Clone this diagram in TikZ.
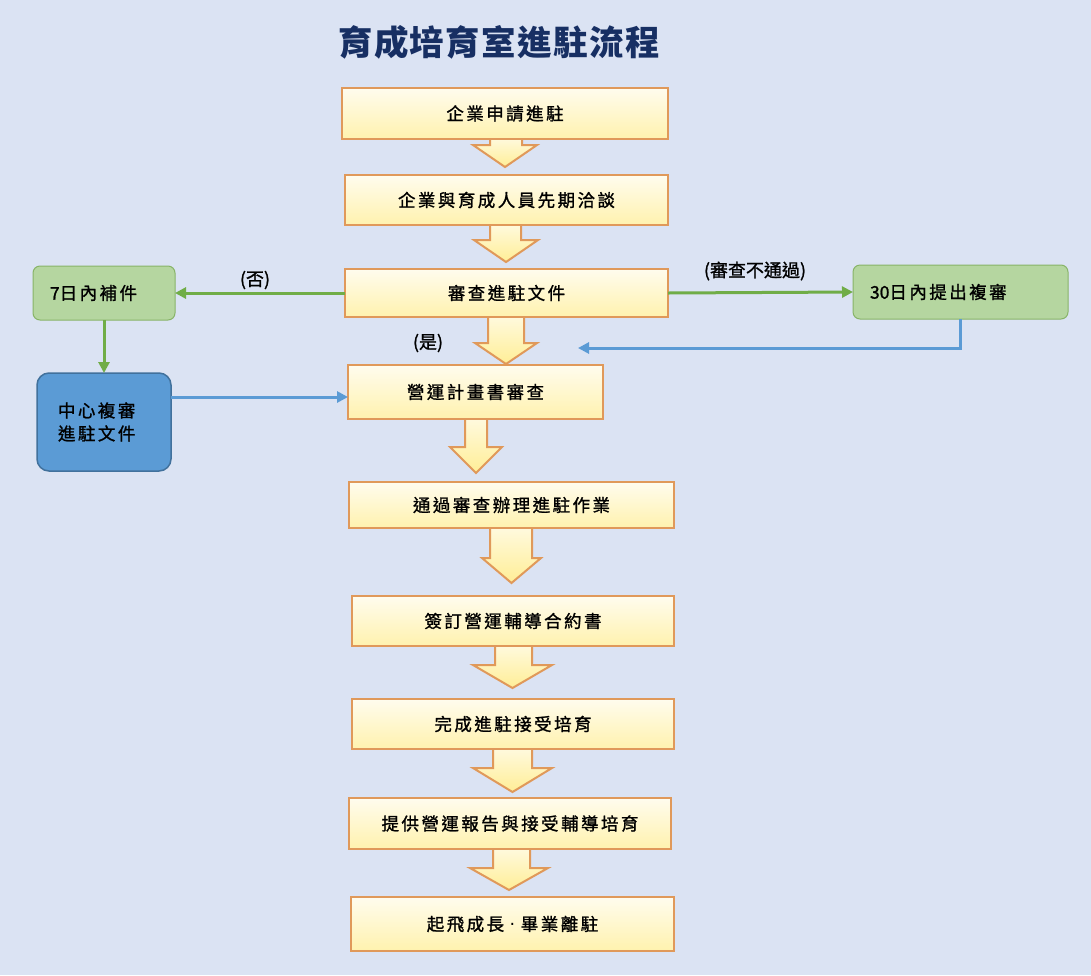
\documentclass[tikz,border=0pt]{standalone}
\usepackage{fontspec}
\setmainfont{Noto Sans CJK TC}[LetterSpace=14, FakeBold=1.2]
\newfontfamily\plainfont{Noto Sans CJK TC}[FakeBold=1.2]
\newfontfamily\dotfont{DejaVu Sans}
\newfontfamily\titlefont{Noto Sans CJK TC}[LetterSpace=4]
\usetikzlibrary{arrows.meta}
\definecolor{bg}{HTML}{DBE3F3}
\definecolor{boxborder}{HTML}{E0995A}
\definecolor{boxtop}{HTML}{FFFCEE}
\definecolor{boxbot}{HTML}{FFF2AE}
\definecolor{arrtop}{HTML}{FFFAE0}
\definecolor{arrbot}{HTML}{FFEE96}
\definecolor{gfill}{HTML}{B5D6A0}
\definecolor{gborder}{HTML}{88B468}
\definecolor{gline}{HTML}{70AD47}
\definecolor{bfill}{HTML}{5B9BD5}
\definecolor{bborder}{HTML}{41719C}
\definecolor{bline}{HTML}{5B9BD5}
\definecolor{titlec}{HTML}{172F63}
\tikzset{
  stepbox/.style={draw=boxborder, line width=2pt, top color=boxtop, bottom color=boxbot,
    inner sep=0pt, outer sep=0pt, font=\fontsize{17.5}{21}\selectfont},
  sidebox/.style={draw=gborder, line width=1pt, fill=gfill, rounded corners=7pt,
    inner sep=0pt, outer sep=0pt, align=left, font=\fontsize{17.5}{21}\selectfont},
  bluebox/.style={draw=bborder, line width=1.5pt, fill=bfill, rounded corners=12pt,
    inner sep=0pt, outer sep=0pt, align=left, font=\fontsize{17.5}{23}\selectfont},
  lbl/.style={font=\plainfont\fontsize{18}{21}\selectfont, inner sep=0pt},
  garrow/.style={draw=gline, line width=3pt, -{Triangle[length=11pt,width=11pt]}},
  barrow/.style={draw=bline, line width=3pt, -{Triangle[length=11pt,width=11pt]}},
  blockarr/.style={draw=boxborder, line width=2pt, top color=arrtop, bottom color=arrbot, line join=miter}
}
% block arrow: shaft left, shaft right, head left, head right, top y, head y, tip y
\newcommand\blockarrow[7]{%
  \path[blockarr] (#1,#5) -- (#1,#6) -- (#3,#6) -- ({(#3+#4)/2},#7) -- (#4,#6) -- (#2,#6) -- (#2,#5);
}
\begin{document}
\begin{tikzpicture}[x=1pt,y=-1pt]
\fill[bg] (0,0) rectangle (1091,975);
\useasboundingbox (0,0) rectangle (1091,975);

\node[font=\titlefont\bfseries\fontsize{34.5}{40}\selectfont, text=titlec, inner sep=0pt] (title) at (499,42) {育成培育室進駐流程};

% block arrows (drawn first, boxes on top)
\blockarrow{490}{522}{473}{537}{137}{145}{167}
\blockarrow{490}{521}{474}{538}{223}{240}{262}
\blockarrow{488}{524}{475}{537}{315}{343}{364}
\blockarrow{465}{487}{450}{502}{417}{447}{473}
\blockarrow{490}{532}{482}{541}{526}{558}{583}
\blockarrow{495}{532}{473}{552}{644}{665}{688}
\blockarrow{493}{532}{473}{552}{747}{768}{792}
\blockarrow{493}{530}{470}{548}{847}{868}{890}

% main steps
\node[stepbox, minimum width=326pt, minimum height=51pt] (s1) at (505,113.5) {企業申請進駐};
\node[stepbox, minimum width=323pt, minimum height=50pt] (s2) at (506.5,200) {企業與育成人員先期洽談};
\node[stepbox, minimum width=323pt, minimum height=48pt] (s3) at (506.5,293) {審查進駐文件};
\node[stepbox, minimum width=255pt, minimum height=54pt] (s4) at (475.5,392) {營運計畫書審查};
\node[stepbox, minimum width=325pt, minimum height=46pt] (s5) at (511.5,505) {通過審查辦理進駐作業};
\node[stepbox, minimum width=322pt, minimum height=50pt] (s6) at (513,621) {簽訂營運輔導合約書};
\node[stepbox, minimum width=322pt, minimum height=50pt] (s7) at (513,724) {完成進駐接受培育};
\node[stepbox, minimum width=322pt, minimum height=51pt] (s8) at (510,823.5) {提供營運報告與接受輔導培育};
\node[stepbox, minimum width=323pt, minimum height=54pt] (s9) at (512.5,924) {起飛成長{\dotfont\ ·\ }畢業離駐};

% side boxes
\node[sidebox, minimum width=142pt, minimum height=54pt, text width=108pt] (n7) at (104,293) {{\plainfont 7}日內補件};
\node[sidebox, minimum width=215pt, minimum height=54pt, text width=181pt] (n30) at (960.5,292) {{\plainfont 30}日內提出複審};
\node[bluebox, minimum width=134pt, minimum height=98pt, text width=92pt] (center) at (104,422) {中心複審\\進駐文件};

% connectors
\draw[garrow] (s3.west) -- (n7.east);
\draw[garrow] (s3.east) -- (n30.west);
\draw[garrow] (n7.south) -- (center.north);
\draw[barrow] (center.east |- 0,397) -- (s4.west |- 0,397);
\coordinate (back) at (578,348);
\draw[barrow] (n30.south) |- (back);

% labels
\node[lbl] (no) at (255,280) {(否)};
\node[lbl] (fail) at (755,271) {(審查不通過)};
\node[lbl] (yes) at (428,343) {(是)};
\end{tikzpicture}
\end{document}
